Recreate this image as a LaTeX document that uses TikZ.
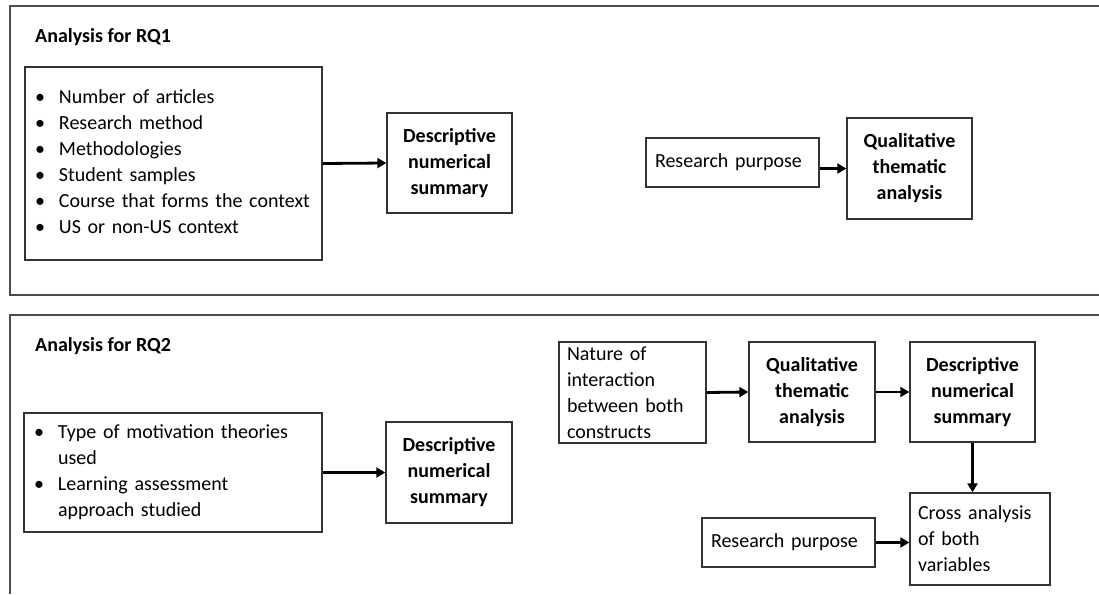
\documentclass[tikz,border=0pt]{standalone}
\usepackage{fontspec}
\setmainfont{Carlito}
\usetikzlibrary{arrows.meta}

\begin{document}
\begin{tikzpicture}[x=1pt,y=-1pt,
    box/.style={draw=black!80, line width=1.4pt, inner sep=0pt,
                font=\fontsize{20}{26}\selectfont},
    boldbox/.style={box, font=\fontsize{20}{26}\selectfont\bfseries, align=center},
    listbox/.style={box, align=left, inner xsep=8pt},
    arr/.style={-{Triangle[length=9pt,width=10pt]}, line width=2.8pt},
    frame/.style={draw=black!70, line width=1.5pt},
    title/.style={anchor=base west, inner sep=0pt,
                  font=\fontsize{20}{26}\selectfont\bfseries}]
  \useasboundingbox (0,0) rectangle (1099,594);

  % panels
  \draw[frame] (1099,6) -- (10,6) -- (10,295) -- (1099,295);
  \draw[frame] (1099,315) -- (10,315) -- (10,594);

  \node[title] (t1) at (35,43) {Analysis for RQ1};
  \node[title] (t2) at (35,351) {Analysis for RQ2};

  % RQ1
  \node[listbox, text width=281pt, minimum height=193pt] (items1) at (173.5,163.5)
    {\begin{tabular}{@{}p{26pt}@{}l@{}}
       \hspace{2pt}\textbullet & Number of articles\\
       \hspace{2pt}\textbullet & Research method\\
       \hspace{2pt}\textbullet & Methodologies\\
       \hspace{2pt}\textbullet & Student samples\\
       \hspace{2pt}\textbullet & Course that forms the context\\
       \hspace{2pt}\textbullet & US or non-US context
     \end{tabular}};
  \node[boldbox, text width=125pt, minimum height=100pt] (desc1) at (449.5,163)
    {Descriptive\\numerical\\summary};
  \node[listbox, inner xsep=9pt, text width=155pt, minimum height=49pt] (purp1) at (732.5,162.5)
    {Research purpose};
  \node[boldbox, text width=125pt, minimum height=101pt] (qual1) at (909.5,168.5)
    {Qualitative\\thematic\\analysis};

  \draw[arr] (items1.east) -- (desc1.west);
  \draw[arr] (purp1.east |- qual1) -- (qual1.west);

  % RQ2
  \node[listbox, text width=282pt, minimum height=119pt] (items2) at (173,472.5)
    {\begin{tabular}{@{}p{26pt}@{}l@{}}
       \hspace{2pt}\textbullet & Type of motivation theories\\
                               & used\\
       \hspace{2pt}\textbullet & Learning assessment\\
                               & approach studied
     \end{tabular}};
  \node[boldbox, text width=126pt, minimum height=101pt] (desc2) at (449,472.5)
    {Descriptive\\numerical\\summary};
  \node[listbox, text width=131pt, minimum height=101pt] (nature) at (632.5,392.5)
    {Nature of\\interaction\\between both\\constructs};
  \node[boldbox, text width=126pt, minimum height=100pt] (qual2) at (812,392)
    {Qualitative\\thematic\\analysis};
  \node[boldbox, text width=125pt, minimum height=100pt] (desc3) at (972.5,392)
    {Descriptive\\numerical\\summary};
  \node[listbox, text width=124pt, minimum height=92pt] (cross) at (980,539)
    {Cross analysis\\of both\\variables};
  \node[listbox, inner xsep=9pt, text width=155pt, minimum height=49pt] (purp2) at (788.5,542.5)
    {Research purpose};

  \draw[arr] (items2.east) -- (desc2.west);
  \draw[arr] (nature.east) -- (qual2.west);
  \draw[arr] (qual2.east) -- (desc3.west);
  \draw[arr] (desc3.south) -- (desc3.south |- cross.north);
  \draw[arr] (purp2.east) -- (cross.west |- purp2);
\end{tikzpicture}
\end{document}
